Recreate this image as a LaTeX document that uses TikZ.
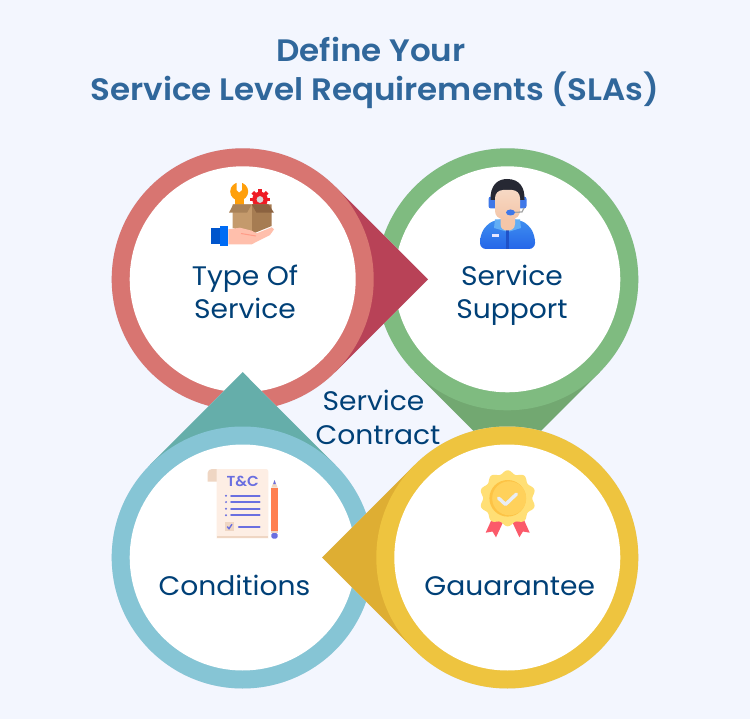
\documentclass[tikz,border=0pt]{standalone}
\usepackage{fontspec}
\usetikzlibrary{calc}
\newfontfamily\labelfont[FakeStretch=1.05]{Poppins}
\newfontfamily\titlefont[FakeStretch=1.05]{Poppins SemiBold}
\definecolor{pagebg}{HTML}{F3F6FE}
\definecolor{dropshadow}{HTML}{DDE4F2}
\definecolor{labelblue}{HTML}{004077}
\definecolor{titleblue}{HTML}{30679B}
\definecolor{ringred}{HTML}{D87571}
\definecolor{darkred}{HTML}{B84257}
\definecolor{ringgreen}{HTML}{7FBB80}
\definecolor{darkgreen}{HTML}{72A871}
\definecolor{ringblue}{HTML}{86C5D5}
\definecolor{darkteal}{HTML}{65AEAA}
\definecolor{ringyellow}{HTML}{EEC43F}
\definecolor{darkyellow}{HTML}{DEAE33}
\definecolor{tcpurple}{HTML}{6A6FE0}
\definecolor{paper}{HTML}{FDEEE4}
\definecolor{paperdark}{HTML}{EFD6C3}
\definecolor{pencil}{HTML}{FF7F50}
\definecolor{wrench}{HTML}{FF9F0A}
\definecolor{gear}{HTML}{EE1C25}
\definecolor{boxleft}{HTML}{C49A6C}
\definecolor{boxright}{HTML}{A67C52}
\definecolor{flapleft}{HTML}{A98259}
\definecolor{flapright}{HTML}{8B6240}
\definecolor{skinpink}{HTML}{FFBFAC}
\definecolor{crease}{HTML}{FF9C88}
\definecolor{cuffdark}{HTML}{0055CC}
\definecolor{cuff}{HTML}{006CF5}
\definecolor{hair}{HTML}{262833}
\definecolor{cup}{HTML}{3F78E8}
\definecolor{jackettop}{HTML}{3F8FF0}
\definecolor{jacketlow}{HTML}{2566E8}
\definecolor{placket}{HTML}{1F52C8}
\definecolor{collar}{HTML}{62AEF5}
\definecolor{facetop}{HTML}{F6D8C4}
\definecolor{facelow}{HTML}{F5C6A8}
\definecolor{rosette}{HTML}{FFDF75}
\definecolor{rosetteedge}{HTML}{FDC345}
\definecolor{rosettecore}{HTML}{FFD15B}
\definecolor{ribbon}{HTML}{FB5A6A}
\definecolor{tick}{HTML}{E9EDF5}
\tikzset{
  labeltext/.style={text=labelblue,font=\labelfont\fontsize{26.8}{30}\selectfont,anchor=base,inner sep=0pt},
  titletext/.style={text=titleblue,font=\titlefont\fontsize{31}{34}\selectfont,anchor=base,inner sep=0pt},
  tcrule/.style={draw=tcpurple,line width=2.1pt,line cap=round},
}
% Teardrop: shadow, pointer with a square corner, ring and white face.
% Arguments: name, cx, cy, direction, ring colour, pointer colour, shadow dx, shadow dy
\newcommand{\teardrop}[8]{%
  \coordinate (#1) at (#2,#3);
  \begin{scope}[shift={(#7,#8)}]
    \fill[dropshadow] ($(#1)+(#4:185.3)$) -- ($(#1)+(#4+45:131)$) -- ($(#1)+(#4-45:131)$) -- cycle;
    \fill[dropshadow] (#1) circle[radius=131];
  \end{scope}
  \fill[#6] ($(#1)+(#4:185.3)$) -- ($(#1)+(#4+45:131)$) -- ($(#1)+(#4-45:131)$) -- cycle;
  \fill[#5] (#1) circle[radius=131];
  \fill[white] (#1) circle[radius=113];
}
\begin{document}
\begin{tikzpicture}[x=1pt,y=-1pt]
\useasboundingbox (0,0) rectangle (750,719);
\fill[pagebg] (0,0) rectangle (750,719);

% Title
\node[titletext] (titleA) at (371,61.3) {Define Your};
\node[titletext] (titleB) at (375,100.3) {Service Level Requirements (SLAs)};

% The four teardrops, stacked so that each pointer overlaps its neighbour
\teardrop{green}{507.3}{279.3}{90}{ringgreen}{darkgreen}{-3}{2}
\teardrop{red}{242.7}{279.3}{0}{ringred}{darkred}{2}{3}
\teardrop{blue}{242.7}{557.5}{270}{ringblue}{darkteal}{3}{-2}
\teardrop{yellow}{507.3}{557.5}{180}{ringyellow}{darkyellow}{-2}{-3}

% Labels
\node[labeltext] (typeA) at (245,285.5) {Type Of};
\node[labeltext] (typeB) at (245,318.5) {Service};
\node[labeltext] (supportA) at (512,285.5) {Service};
\node[labeltext] (supportB) at (512,318.5) {Support};
\node[labeltext] (conditions) at (234.5,595.5) {Conditions};
\node[labeltext] (gaurantee) at (509.7,595) {Gauarantee};
\node[labeltext] (contractA) at (373.5,410.5) {Service};
\node[labeltext] (contractB) at (378,444.5) {Contract};

% Parcel on an open hand, with wrench and gear
\fill[wrench] (235,198) rectangle (243.5,208);
\fill[wrench] (239.2,191.5) circle[radius=9];
\fill[white] (236.6,181) -- (241.8,181) -- (241.8,190) -- (239.2,192.5) -- (236.6,190) -- cycle;
\begin{scope}[shift={(260,199.5)}]
  \foreach \a in {0,45,...,315}
    \fill[gear,rotate=\a] (-1.9,-10.2) rectangle (1.9,0);
  \fill[gear] (0,0) circle[radius=7.8];
  \fill[black!15] (0,0) circle[radius=3.4];
\end{scope}
\fill[boxleft] (232.7,204.5) -- (252,204.5) -- (252,234) -- (232.7,228) -- cycle;
\fill[boxright] (252,204.5) -- (271.7,204.5) -- (271.7,226) -- (252,234) -- cycle;
\fill[flapleft] (229,212.7) -- (233.3,204.3) -- (251.7,204.3) -- (247,212.7) -- cycle;
\fill[flapright] (251.7,204.3) -- (268.5,204.3) -- (274,212.7) -- (256.5,212.7) -- cycle;
\fill[skinpink] (228.3,229.3) -- (240,227.7) -- (251.7,230.7) -- (256.7,233.3) -- (271.7,227.3) -- (274,229.3) -- (270,235) -- (251.7,244.3) -- (228.3,244.3) -- cycle;
\draw[crease,line width=1pt] (241,233.5) -- (256,236);
\fill[cuffdark] (211,228.3) rectangle (220,244);
\fill[cuff] (220,226) rectangle (228.3,246);

% Support agent with headset
\fill[cup,rounded corners=2.5pt] (488.5,196.5) rectangle (497,208.5);
\fill[cup,rounded corners=2.5pt] (518,196.5) rectangle (526.5,208.5);
\fill[hair] (490.5,200) .. controls (490,186) and (497,179) .. (507,179) .. controls (520,179) and (525,188) .. (524.5,200) -- cycle;
\shade[top color=jackettop,bottom color=jacketlow,rounded corners=6pt] (480,249) -- (480,236) -- (486,225) -- (496,219.5) -- (519,219.5) -- (529,225) -- (535,236) -- (535,249) -- cycle;
\fill[collar] (495,219.5) -- (520,219.5) -- (521,228) -- (508,232) -- (494,228) -- cycle;
\fill[placket] (505.5,230) rectangle (509,249);
\fill[white!90!blue] (491.5,234.5) rectangle (498.5,237.5);
\fill[facelow] (500.5,214) -- (515,214) -- (515,224) .. controls (515,229) and (511,230.5) .. (507.7,230.5) .. controls (504,230.5) and (500.5,229) .. (500.5,224) -- cycle;
\shade[top color=facetop,bottom color=facelow,rounded corners=8pt] (495,190) rectangle (520,219);
\draw[black!35,line width=1.3pt] (512,212.5) -- (522,212) -- (524,208);
\fill[cup] (510.5,212.5) ellipse[x radius=4.5,y radius=3];

% Terms and conditions sheet with pencil
\fill[paperdark] (207.5,481.5) -- (207.5,473) .. controls (207.5,470.5) and (210,469) .. (212,469) -- (217,469) -- (217,481.5) -- cycle;
\fill[paper] (216.7,469) -- (266,469) .. controls (267.5,469) and (268.3,470) .. (268.3,471.5) -- (268.3,538.3) -- (216.7,538.3) -- cycle;
\fill[paperdark] (216.7,536) rectangle (268.3,538.3);
\node[text=tcpurple,font=\titlefont\fontsize{14.5}{16}\selectfont,inner sep=0pt] (tc) at (242.7,481.7) {T\&C};
\foreach \ypos in {495.7,502.1,508.7,515.3}{
  \draw[tcrule] (231.2,\ypos) -- (259.6,\ypos);
  \fill[tcpurple] (226,\ypos) circle[radius=1.1];
}
\fill[paperdark] (225,522.3) rectangle (234,531);
\draw[tcpurple,line width=1.4pt] (227.2,526.6) -- (229,528.7) -- (232,524.2);
\draw[tcrule] (238.8,526.7) -- (259.6,526.7);
\fill[pencil] (271.3,487.7) rectangle (277.7,531);
\fill[paperdark] (271.3,487.7) -- (274.5,480) -- (277.7,487.7) -- cycle;
\fill[tcpurple] (273.1,484.2) -- (274.5,480) -- (275.9,484.2) -- cycle;
\fill[paperdark] (271.3,531) rectangle (277.7,533);
\fill[tcpurple,rounded corners=1.5pt] (271.3,533) rectangle (277.7,538.5);

% Rosette with ribbons
\fill[ribbon] (485.7,532.7) -- (495,512) -- (505,518) -- (496,537.3) -- (492.5,531.5) -- cycle;
\fill[ribbon] (529.7,532.7) -- (520.4,512) -- (510.4,518) -- (519.4,537.3) -- (522.9,531.5) -- cycle;
\begin{scope}[shift={(507.7,498.3)}]
  \fill[rosette] plot[domain=0:360,samples=181,smooth] ({\x}:{26.3+1.7*cos(10*(\x+90))}) -- cycle;
  \fill[rosetteedge] (0,0) circle[radius=18.3];
  \fill[rosettecore] (1.5,0) circle[radius=17];
\end{scope}
\draw[tick,line width=3.4pt,line cap=round,line join=round] (498.5,498) -- (505.5,504.5) -- (516.5,494);
\end{tikzpicture}
\end{document}
